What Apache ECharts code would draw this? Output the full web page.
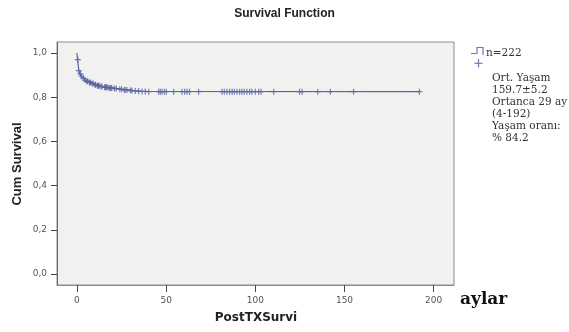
<!DOCTYPE html>
<html>
<head>
<meta charset="utf-8">
<script src="https://cdn.jsdelivr.net/npm/echarts@6/dist/echarts.min.js"></script>
<style>
  html, body { margin: 0; padding: 0; background: #fff; }
  #chart { width: 569px; height: 332px; }
</style>
</head>
<body>
<div id="chart"></div>
<script>
// Kaplan-Meier steps (months, cumulative survival)
const eventTimes = [0, 0.3, 1, 1.6, 2.2, 3, 4, 5, 6.5, 8, 9.5, 11, 13, 15, 17.5, 20, 23, 26, 29, 32, 35, 40];
const survival = [1, 0.97, 0.92, 0.905, 0.895, 0.886, 0.878, 0.872, 0.867, 0.862, 0.857, 0.852, 0.848, 0.845, 0.842, 0.839, 0.836, 0.833, 0.83, 0.828, 0.826, 0.825];
// censored observations (the + marks)
const censorTimes = [0.5, 1, 2, 2.5, 3.5, 4.5, 5.5, 6, 7, 7.5, 8.5, 9, 10, 10.5, 11.5, 12, 12.5, 13.5, 14, 15.5, 16, 16.5,
  17, 18, 18.5, 19, 19.5, 21, 22, 24, 25, 26.5, 27, 28, 30, 30.8, 32.7, 34.6, 36.5, 38.3, 40.2, 45.8, 46.7, 47.7, 49,
  50.1, 54.2, 58.9, 60.4, 61.7, 63.1, 68.2, 81.3, 82.6, 84.1, 85.6, 87, 88.2, 89.7, 91.2, 92.5, 93.8, 95.3, 96.8,
  98.1, 100, 101.9, 103.2, 110.3, 124.8, 126.2, 135, 142.1, 155.1, 192];
const xTicks = [0, 50, 100, 150, 200];
const yTicks = [0, 0.2, 0.4, 0.6, 0.8, 1.0];
const legendLines = ['Ort. Yaşam', '159.7±5.2', 'Ortanca 29 ay', '(4-192)', 'Yaşam oranı:', '% 84.2'];

const lineColor = '#5a64a2';

function survivalAt(t) {
  let s = survival[0];
  for (let i = 0; i < eventTimes.length; i++) {
    if (eventTimes[i] <= t) s = survival[i];
  }
  return s;
}

const curve = eventTimes.map((t, i) => [t, survival[i]]);
const lastT = censorTimes[censorTimes.length - 1];
curve.push([lastT, survivalAt(lastT)]);
const censored = censorTimes.map(t => [t, survivalAt(t)]);

const chart = echarts.init(document.getElementById('chart'));

const legendText = legendLines.map((s, i) => ({
  type: 'text', left: 492, top: 73 + i * 12,
  style: { text: s, font: '10.5px "DejaVu Serif"', fill: '#333' }
}));

chart.setOption({
  animation: false,
  title: {
    text: 'Survival Function', left: 'center', top: 3,
    textStyle: { fontFamily: 'Liberation Sans', fontWeight: 'bold', fontSize: 12, color: '#222' }
  },
  grid: {
    left: 57, right: 115, top: 42, bottom: 47,
    show: true, backgroundColor: '#f1f1ef', borderColor: '#8c8c8c', borderWidth: 1
  },
  xAxis: {
    type: 'value', min: -11.2, max: 211.4,
    axisLine: { show: true, onZero: false, lineStyle: { color: '#8c8c8c' } },
    axisTick: { show: true, customValues: xTicks, length: 7, lineStyle: { color: '#444' } },
    axisLabel: { customValues: xTicks, margin: 11, fontFamily: 'DejaVu Sans', fontSize: 9, color: '#555' },
    splitLine: { show: false }
  },
  yAxis: {
    type: 'value', min: -0.05, max: 1.05,
    axisLine: { show: true, onZero: false, lineStyle: { color: '#666' } },
    axisTick: { show: true, customValues: yTicks, length: 6, lineStyle: { color: '#444' } },
    axisLabel: {
      customValues: yTicks, margin: 10, fontFamily: 'DejaVu Sans', fontSize: 9, color: '#555',
      formatter: v => v.toFixed(1).replace('.', ',')
    },
    splitLine: { show: false }
  },
  series: [
    {
      type: 'line', step: 'end', data: curve, symbol: 'none',
      lineStyle: { color: lineColor, width: 1.2 }
    },
    {
      type: 'scatter', data: censored,
      symbol: 'path://M0,4H10V6H0Z M4,0H6V10H4Z', symbolSize: 6,
      itemStyle: { color: lineColor }
    }
  ],
  graphic: [
    {
      type: 'text', x: 17, y: 164, rotation: Math.PI / 2,
      style: {
        text: 'Cum Survival', font: 'bold 13px "Liberation Sans Narrow", "Liberation Sans"',
        fill: '#222', align: 'center', verticalAlign: 'middle'
      }
    },
    {
      type: 'text', x: 256, y: 318,
      style: {
        text: 'PostTXSurvi', font: 'bold 12px "DejaVu Sans"',
        fill: '#222', align: 'center', verticalAlign: 'middle'
      }
    },
    {
      type: 'text', x: 460, y: 300,
      style: { text: 'aylar', font: 'bold 17px "DejaVu Serif"', fill: '#111', verticalAlign: 'middle' }
    },
    {
      type: 'polyline',
      shape: { points: [[471, 53.5], [477, 53.5], [477, 47.5], [483, 47.5], [483, 55]] },
      style: { stroke: '#6f78ad', lineWidth: 1.2, fill: null }
    },
    { type: 'line', shape: { x1: 474.5, y1: 63.3, x2: 482.5, y2: 63.3 }, style: { stroke: '#6f78ad', lineWidth: 1.2 } },
    { type: 'line', shape: { x1: 478.5, y1: 59, x2: 478.5, y2: 67.5 }, style: { stroke: '#6f78ad', lineWidth: 1.2 } },
    {
      type: 'text', left: 486, top: 48,
      style: { text: 'n=222', font: '10.5px "DejaVu Serif"', fill: '#333' }
    }
  ].concat(legendText)
});
</script>
</body>
</html>
